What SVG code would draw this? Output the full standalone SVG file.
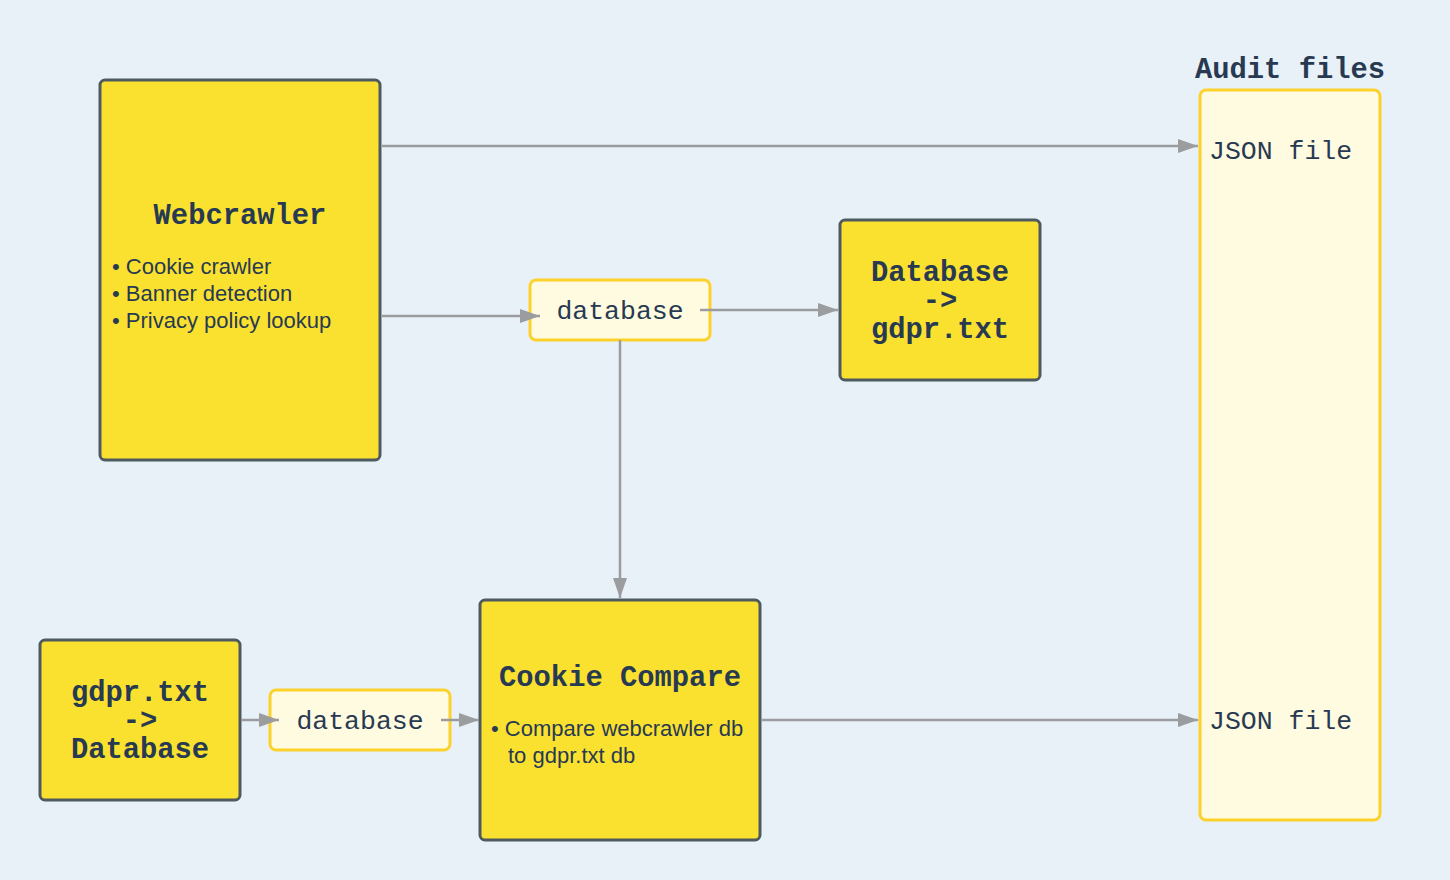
<svg xmlns="http://www.w3.org/2000/svg" width="1450" height="880" viewBox="0 0 1450 880">
<defs>
<marker id="ah" markerWidth="20" markerHeight="14" refX="20" refY="7" orient="auto" markerUnits="userSpaceOnUse">
<path d="M0,0 L20,7 L0,14 Z" fill="#9a9c9e"/>
</marker>
<style>
.main{fill:#fae12f;stroke:#4d5b61;stroke-width:3}
.light{fill:#fffbe0;stroke:#fdd12c;stroke-width:3}
.title{font-family:"Liberation Mono",monospace;font-weight:bold;font-size:28.8px;fill:#283a52;text-anchor:middle}
.mono{font-family:"Liberation Mono",monospace;font-size:26.5px;fill:#283a52}
.body{font-family:"Liberation Sans",Arial,sans-serif;font-size:22px;fill:#283a52}
.conn{fill:none;stroke:#9a9c9e;stroke-width:2.5;marker-end:url(#ah)}
</style>
</defs>
<rect width="1450" height="880" fill="#e8f1f8"/>
<g id="audit-files">
<rect class="light" x="1200" y="90" width="180" height="730" rx="6"/>
<text class="title" x="1290" y="78">Audit files</text>
<text class="mono" x="1209" y="159">JSON file</text>
<text class="mono" x="1209" y="729">JSON file</text>
</g>
<g id="webcrawler">
<rect class="main" x="100" y="80" width="280" height="380" rx="5"/>
<text class="title" x="240" y="224">Webcrawler</text>
<text class="body" x="112" y="274">• Cookie crawler</text>
<text class="body" x="112" y="301">• Banner detection</text>
<text class="body" x="112" y="328">• Privacy policy lookup</text>
</g>
<g id="database1">
<rect class="light" x="530" y="280" width="180" height="60" rx="6"/>
<text class="mono" x="620" y="319" text-anchor="middle">database</text>
</g>
<g id="db-to-gdpr">
<rect class="main" x="840" y="220" width="200" height="160" rx="5"/>
<text class="title" x="940" y="281">Database</text>
<text class="title" x="940" y="309">-&gt;</text>
<text class="title" x="940" y="338">gdpr.txt</text>
</g>
<g id="gdpr-to-db">
<rect class="main" x="40" y="640" width="200" height="160" rx="5"/>
<text class="title" x="140" y="701">gdpr.txt</text>
<text class="title" x="140" y="729">-&gt;</text>
<text class="title" x="140" y="758">Database</text>
</g>
<g id="database2">
<rect class="light" x="270" y="690" width="180" height="60" rx="6"/>
<text class="mono" x="360" y="729" text-anchor="middle">database</text>
</g>
<g id="cookie-compare">
<rect class="main" x="480" y="600" width="280" height="240" rx="5"/>
<text class="title" x="620" y="686">Cookie Compare</text>
<text class="body" x="491" y="736">• Compare webcrawler db</text>
<text class="body" x="508" y="763">to gdpr.txt db</text>
</g>
<g id="connectors">
<path class="conn" d="M382,146 L1198,146"/>
<path class="conn" d="M382,316 L540,316"/>
<path class="conn" d="M700,310 L838,310"/>
<path class="conn" d="M620,340 L620,598"/>
<path class="conn" d="M241,720 L279,720"/>
<path class="conn" d="M441,720 L479,720"/>
<path class="conn" d="M762,720 L1198,720"/>
</g>
</svg>
